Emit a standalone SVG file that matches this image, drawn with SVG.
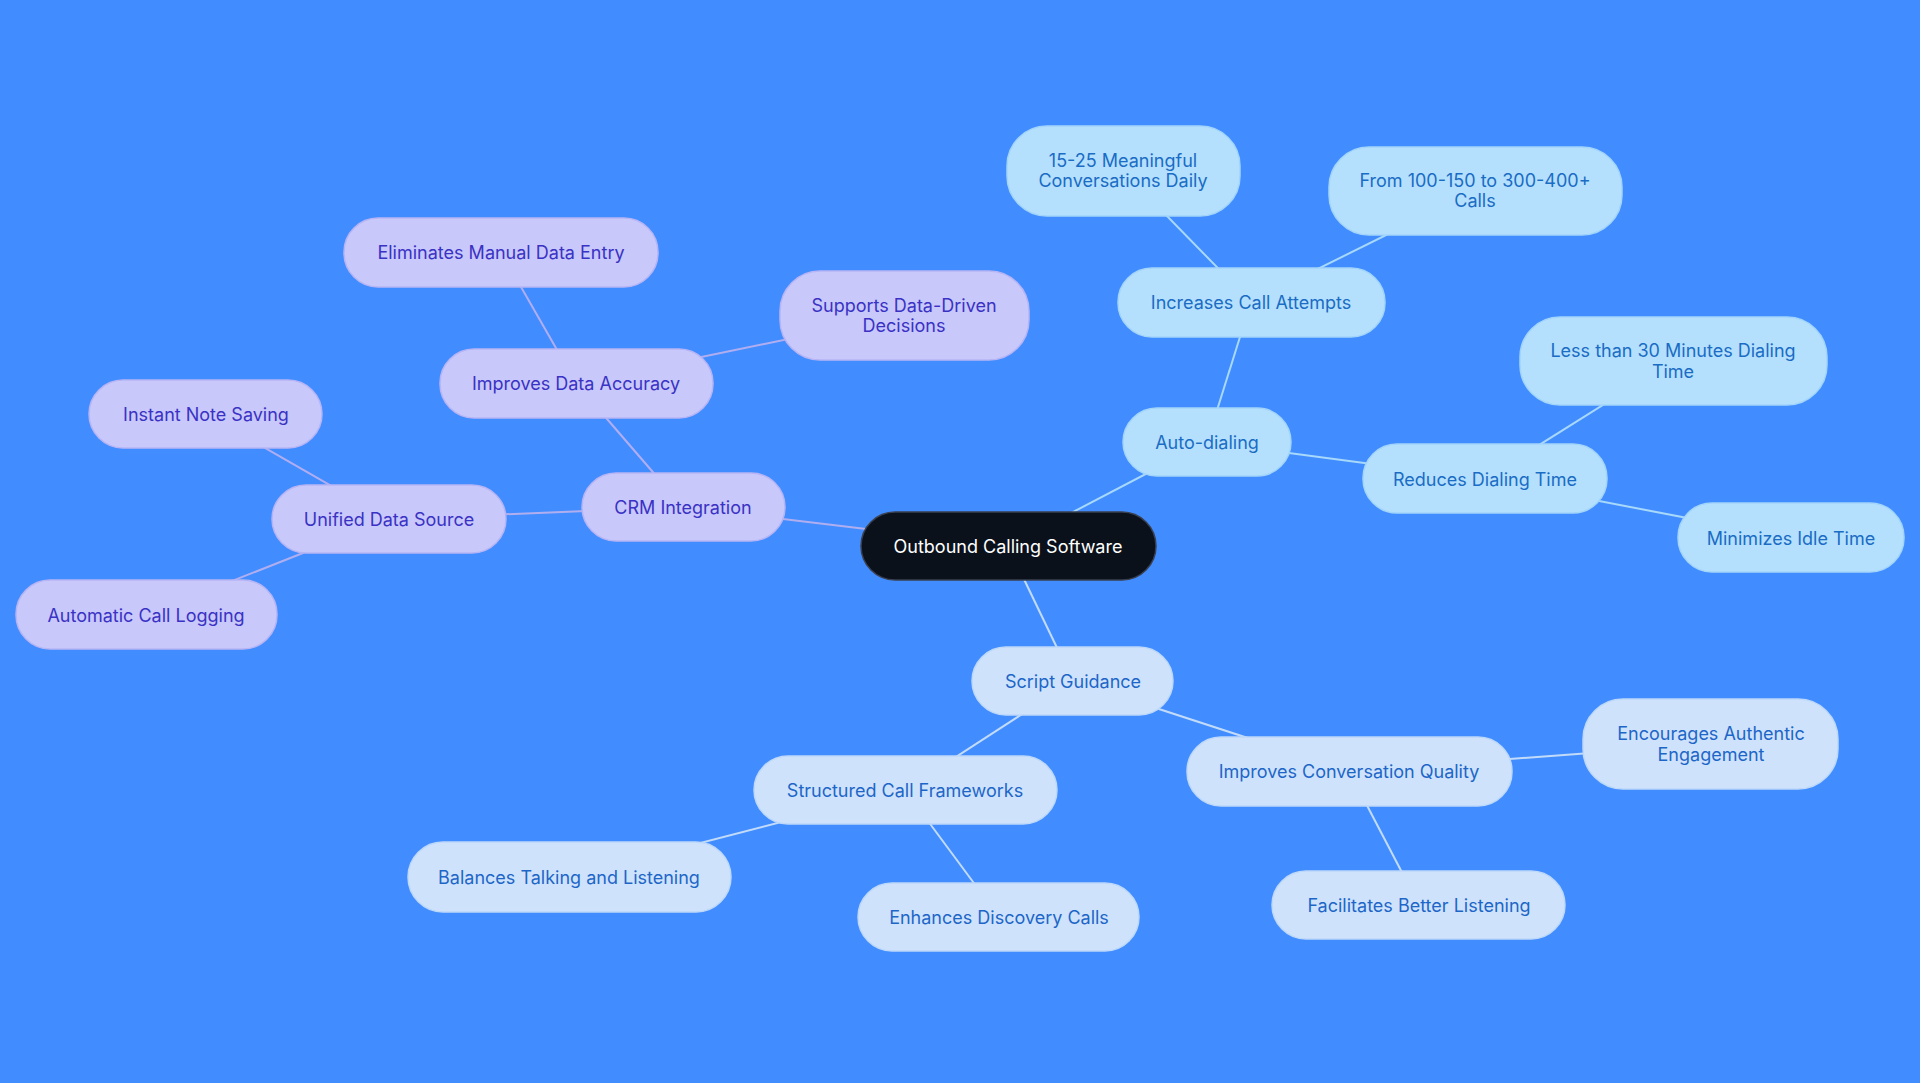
<svg xmlns="http://www.w3.org/2000/svg" width="1920" height="1083" viewBox="0 0 1920 1083">
<style>
text{font-family:Inter,"Noto Sans",sans-serif;font-size:18px;text-anchor:middle;dominant-baseline:central}
.p rect{fill:#c8c8fb;stroke:#b7b4f5;stroke-width:1.5}.p text{fill:#3a32c4}
.a rect{fill:#b4e0fd;stroke:#a3d5fb;stroke-width:1.5}.a text{fill:#1a6cc4}
.s rect{fill:#cee3fb;stroke:#bdd8fa;stroke-width:1.5}.s text{fill:#1d66c8}
.c rect{fill:#0b111b;stroke:#3a4050;stroke-width:1.5}.c text{fill:#fff}
#edges line{stroke-width:2}
.ep{stroke:#b1aef0}.ea{stroke:#a8d8fa}.es{stroke:#c2dbf8}
</style>
<rect width="1920" height="1083" fill="#418dff"/>
<g id="edges">
<line class="ep" x1="1008" y1="546" x2="683" y2="507"/>
<line class="ep" x1="683" y1="507" x2="576" y2="383"/>
<line class="ep" x1="576" y1="383" x2="501" y2="252"/>
<line class="ep" x1="576" y1="383" x2="904" y2="315"/>
<line class="ep" x1="683" y1="507" x2="389" y2="519"/>
<line class="ep" x1="389" y1="519" x2="206" y2="414"/>
<line class="ep" x1="389" y1="519" x2="146" y2="615"/>
<line class="ea" x1="1008" y1="546" x2="1207" y2="442"/>
<line class="ea" x1="1207" y1="442" x2="1251" y2="302"/>
<line class="ea" x1="1251" y1="302" x2="1123" y2="171"/>
<line class="ea" x1="1251" y1="302" x2="1475" y2="191"/>
<line class="ea" x1="1207" y1="442" x2="1485" y2="479"/>
<line class="ea" x1="1485" y1="479" x2="1673" y2="361"/>
<line class="ea" x1="1485" y1="479" x2="1791" y2="538"/>
<line class="es" x1="1008" y1="546" x2="1073" y2="681"/>
<line class="es" x1="1073" y1="681" x2="905" y2="790"/>
<line class="es" x1="905" y1="790" x2="569" y2="877"/>
<line class="es" x1="905" y1="790" x2="999" y2="917"/>
<line class="es" x1="1073" y1="681" x2="1349" y2="771"/>
<line class="es" x1="1349" y1="771" x2="1711" y2="744"/>
<line class="es" x1="1349" y1="771" x2="1419" y2="905"/>
</g>
<g id="n0" class="c"><rect x="861" y="512" width="295" height="68" rx="34"/><text x="1008" y="546">Outbound Calling Software</text></g>
<g id="n1" class="p"><rect x="582" y="473" width="203" height="68" rx="34"/><text x="683" y="507">CRM Integration</text></g>
<g id="n2" class="p"><rect x="440" y="349" width="273" height="69" rx="34"/><text x="576" y="383">Improves Data Accuracy</text></g>
<g id="n3" class="p"><rect x="344" y="218" width="314" height="69" rx="34"/><text x="501" y="252">Eliminates Manual Data Entry</text></g>
<g id="n4" class="p"><rect x="780" y="271" width="249" height="89" rx="40"/><text x="904" y="305">Supports Data-Driven</text><text x="904" y="325">Decisions</text></g>
<g id="n5" class="p"><rect x="272" y="485" width="234" height="68" rx="34"/><text x="389" y="519">Unified Data Source</text></g>
<g id="n6" class="p"><rect x="89" y="380" width="233" height="68" rx="34"/><text x="206" y="414">Instant Note Saving</text></g>
<g id="n7" class="p"><rect x="16" y="580" width="261" height="69" rx="34"/><text x="146" y="615">Automatic Call Logging</text></g>
<g id="n8" class="a"><rect x="1123" y="408" width="168" height="68" rx="34"/><text x="1207" y="442">Auto-dialing</text></g>
<g id="n9" class="a"><rect x="1118" y="268" width="267" height="69" rx="34"/><text x="1251" y="302">Increases Call Attempts</text></g>
<g id="n10" class="a"><rect x="1007" y="126" width="233" height="90" rx="40"/><text x="1123" y="160">15-25 Meaningful</text><text x="1123" y="180">Conversations Daily</text></g>
<g id="n11" class="a"><rect x="1329" y="147" width="293" height="88" rx="40"/><text x="1475" y="180">From 100-150 to 300-400+</text><text x="1475" y="200">Calls</text></g>
<g id="n12" class="a"><rect x="1363" y="444" width="244" height="69" rx="34"/><text x="1485" y="479">Reduces Dialing Time</text></g>
<g id="n13" class="a"><rect x="1520" y="317" width="307" height="88" rx="40"/><text x="1673" y="350">Less than 30 Minutes Dialing</text><text x="1673" y="371">Time</text></g>
<g id="n14" class="a"><rect x="1678" y="503" width="226" height="69" rx="34"/><text x="1791" y="538">Minimizes Idle Time</text></g>
<g id="n15" class="s"><rect x="972" y="647" width="201" height="68" rx="34"/><text x="1073" y="681">Script Guidance</text></g>
<g id="n16" class="s"><rect x="754" y="756" width="303" height="68" rx="34"/><text x="905" y="790">Structured Call Frameworks</text></g>
<g id="n17" class="s"><rect x="408" y="842" width="323" height="70" rx="35"/><text x="569" y="877">Balances Talking and Listening</text></g>
<g id="n18" class="s"><rect x="858" y="883" width="281" height="68" rx="34"/><text x="999" y="917">Enhances Discovery Calls</text></g>
<g id="n19" class="s"><rect x="1187" y="737" width="325" height="69" rx="34"/><text x="1349" y="771">Improves Conversation Quality</text></g>
<g id="n20" class="s"><rect x="1583" y="699" width="255" height="90" rx="40"/><text x="1711" y="733">Encourages Authentic</text><text x="1711" y="754">Engagement</text></g>
<g id="n21" class="s"><rect x="1272" y="871" width="293" height="68" rx="34"/><text x="1419" y="905">Facilitates Better Listening</text></g>
</svg>
